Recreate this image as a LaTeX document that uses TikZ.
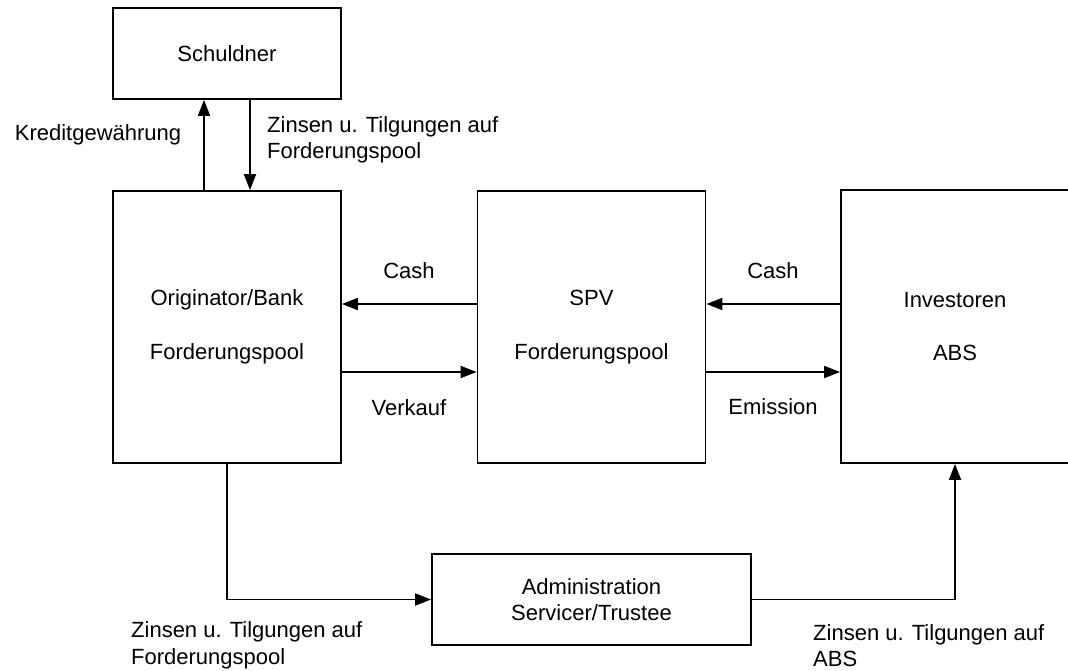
\documentclass[tikz,border=0pt]{standalone}
\usepackage{fontspec}
\setmainfont{Liberation Sans}
\usetikzlibrary{arrows.meta}
\begin{document}
\begin{tikzpicture}[x=1pt,y=-1pt,
  font=\fontsize{22}{26.5}\selectfont,
  box/.style={draw,line width=1.8pt,minimum width=228pt,inner sep=0pt,align=center},
  lbl/.style={inner sep=0pt,align=left},
  conn/.style={line width=1.8pt,-{Triangle[length=16pt,width=12pt]}}]
\useasboundingbox (0,0) rectangle (1068,670);
\clip (0,0) rectangle (1068,670);
\node[box,minimum height=91pt] (schuld) at (227,53.5) {Schuldner};
\node[box,minimum height=272pt] (orig) at (227,327) {Originator/Bank\\[27pt]Forderungspool};
\node[box,minimum height=272pt] (spv) at (591.5,327) {SPV\\[27pt]Forderungspool};
\node[box,minimum height=273pt] (inv) at (955,326.5) {Investoren\\[27pt]ABS};
\node[box,minimum width=319pt,minimum height=91pt] (admin) at (591.5,599.5) {Administration\\Servicer/Trustee};
% connectors
\draw[conn] ([xshift=-23pt]orig.north) -- ([xshift=-23pt]schuld.south);
\draw[conn] ([xshift=23pt]schuld.south) -- ([xshift=23pt]orig.north);
\draw[conn] ([yshift=23pt]spv.west) -- ([yshift=23pt]orig.east);
\draw[conn] ([yshift=-45pt]orig.east) -- ([yshift=-45pt]spv.west);
\draw[conn] ([yshift=22.5pt]inv.west) -- ([yshift=23pt]spv.east);
\draw[conn] ([yshift=-45pt]spv.east) -- ([yshift=-45.5pt]inv.west);
\draw[conn] (orig.south) |- (admin.west);
\draw[conn] (admin.east) -| (inv.south);
% labels
\node[lbl] (lkredit) at (98,135) {Kreditgewährung};
\node[lbl,anchor=west] (lzins1) at (267,140) {Zinsen u. Tilgungen auf\\Forderungspool};
\node[lbl] (lcash1) at (409,271) {Cash};
\node[lbl] (lverk) at (409,408) {Verkauf};
\node[lbl] (lcash2) at (773,271) {Cash};
\node[lbl] (lemis) at (773,407) {Emission};
\node[lbl,anchor=west] (lzins2) at (131,645.5) {Zinsen u. Tilgungen auf\\Forderungspool};
\node[lbl,anchor=west] (lzins3) at (813,645.5) {Zinsen u. Tilgungen auf\\ABS};
\end{tikzpicture}
\end{document}
